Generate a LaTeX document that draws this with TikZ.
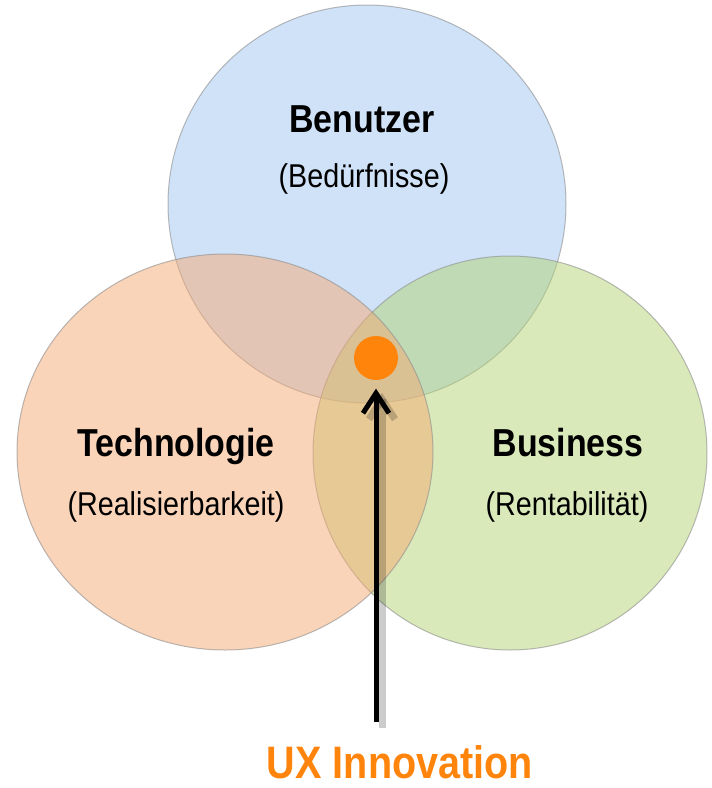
\documentclass[tikz,border=0pt]{standalone}
\usepackage{fontspec}
\setmainfont{Liberation Sans}[FakeStretch=0.87]
\usepackage{xcolor}
\definecolor{userblue}{RGB}{159,197,241}
\definecolor{techorange}{RGB}{245,169,115}
\definecolor{bizgreen}{RGB}{179,211,117}
\definecolor{rim}{RGB}{140,140,140}
\definecolor{uxorange}{RGB}{255,132,12}
\usetikzlibrary{arrows.meta}
\tikzset{
  every picture/.style={x=1pt, y=-1pt},
  ring/.style={fill=#1, fill opacity=0.5, draw=rim, draw opacity=0.6, line width=1pt},
  title/.style={font=\fontsize{39}{44}\selectfont\bfseries, anchor=base, inner sep=0pt},
  subtitle/.style={font=\fontsize{33}{38}\selectfont, anchor=base, inner sep=0pt},
  dot/.style={circle, fill=uxorange, minimum size=44pt, inner sep=0pt},
  pointer/.style={line width=5pt, draw=black, line join=miter},
  pointershade/.style={pointer, draw opacity=0.2, line width=7pt, transform canvas={xshift=6pt, yshift=-6pt}},
}

\begin{document}
\begin{tikzpicture}
  \useasboundingbox (0,0) rectangle (712,788);
  % the three sets
  \coordinate (user) at (367,204);
  \coordinate (biz) at (510,453);
  \coordinate (tech) at (225,452);
  \draw[ring=userblue] (user) circle [radius=199];
  \draw[ring=bizgreen] (biz) circle [radius=197];
  \draw[ring=techorange] (tech) ellipse [x radius=208, y radius=198];
  % labels
  \node[title] (usert) at (362,132) {Benutzer};
  \node[subtitle] (users) at (364,187) {(Bedürfnisse)};
  \node[title] (techt) at (176,456) {Technologie};
  \node[subtitle] (techs) at (176,515) {(Realisierbarkeit)};
  \node[title] (bizt) at (568,456) {Business};
  \node[subtitle] (bizs) at (567,515) {(Rentabilität)};
  % sweet spot and pointer (chevron head drawn by hand)
  \node[dot] (ux) at (376,358) {};
  \coordinate (foot) at (376,722);
  \coordinate (tip) at ([yshift=-13pt]ux.south);
  \foreach \s in {pointershade, pointer} {
    \draw[\s] (foot) -- (tip);
    \draw[\s] ([xshift=-13pt, yshift=-20pt]tip) -- (tip) -- ([xshift=13pt, yshift=-20pt]tip);
  }
  \node[anchor=base, inner sep=0pt, text=uxorange, font=\fontsize{45.5}{50}\selectfont\bfseries] (uxlabel) at (400,778) {UX Innovation};
\end{tikzpicture}
\end{document}
